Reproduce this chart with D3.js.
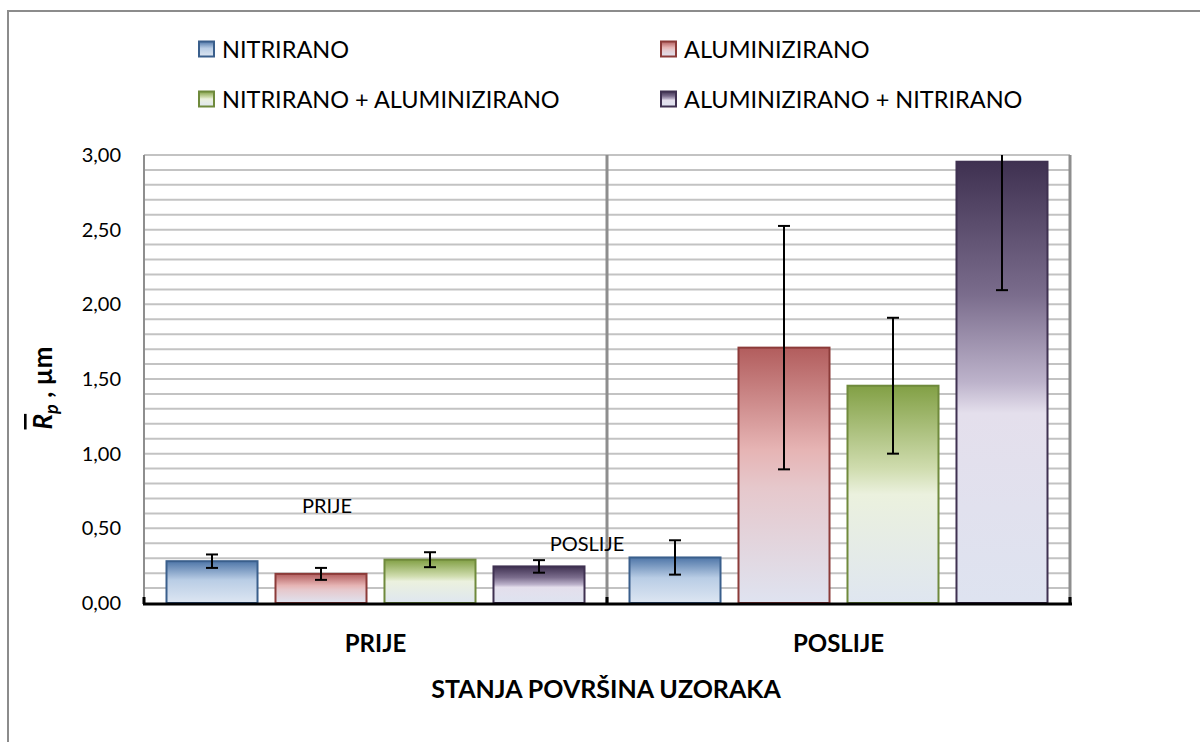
<!DOCTYPE html>
<html>
<head>
<meta charset="utf-8">
<script src="https://cdn.jsdelivr.net/npm/d3@7"></script>
<style>
  body { margin: 0; background: #fff; }
  svg { display: block; font-family: Lato, "Open Sans", sans-serif; }
</style>
</head>
<body>
<svg id="chart" width="1200" height="742"></svg>
<script>
// Surface states on the category axis
const groups = ["PRIJE", "POSLIJE"];
// Treatments (one bar per treatment inside each state)
const seriesNames = ["NITRIRANO", "ALUMINIZIRANO", "NITRIRANO + ALUMINIZIRANO", "ALUMINIZIRANO + NITRIRANO"];
// Mean Rp values, µm
const prijeValues = [0.28, 0.195, 0.29, 0.245];
const poslijeValues = [0.305, 1.71, 1.455, 2.955];
// Standard deviations (error bar half-lengths), µm
const prijeErrors = [0.045, 0.04, 0.05, 0.042];
const poslijeErrors = [0.115, 0.815, 0.455, 0.86];
// Value axis labels
const yTicks = [0, 0.5, 1, 1.5, 2, 2.5, 3];
const yGridStep = 0.1;

const valuesByGroup = { PRIJE: prijeValues, POSLIJE: poslijeValues };
const errorsByGroup = { PRIJE: prijeErrors, POSLIJE: poslijeErrors };

// Fill gradients and outline colours per treatment
const palette = [
  { stroke: "#3a5f8c", stops: [[0, "#4f76a8"], [0.45, "#b9cde5"], [1, "#dde6f2"]] },
  { stroke: "#8c3b39", stops: [[0, "#b25d5d"], [0.4, "#e6b4b4"], [0.55, "#e6c8cc"], [1, "#dfe3f0"]] },
  { stroke: "#6f8a3c", stops: [[0, "#82a045"], [0.38, "#cfdcae"], [0.5, "#ebf1de"], [1, "#dfe6f0"]] },
  { stroke: "#3f3151", stops: [[0, "#3f3151"], [0.3, "#7a6c8c"], [0.5, "#bdb3cb"], [0.57, "#e4dfec"], [1, "#dee3f0"]] }
];

const svg = d3.select("#chart");
const W = 1200, H = 742;
const plot = { left: 144, right: 1070, top: 155, bottom: 603 };

svg.append("rect").attr("width", W).attr("height", H).attr("fill", "#fff");

// Chart frame (runs off the right and bottom edges)
svg.append("path")
  .attr("d", `M8,${H + 2}V11H${W + 2}`)
  .attr("fill", "none").attr("stroke", "#8c8c8c").attr("stroke-width", 2);

const defs = svg.append("defs");
palette.forEach((p, i) => {
  const g = defs.append("linearGradient").attr("id", "grad" + i)
    .attr("x1", 0).attr("y1", 0).attr("x2", 0).attr("y2", 1);
  p.stops.forEach(([o, c]) => g.append("stop").attr("offset", o).attr("stop-color", c));
});
defs.append("clipPath").attr("id", "plotClip")
  .append("rect").attr("x", plot.left - 10).attr("y", plot.top)
  .attr("width", plot.right - plot.left + 20).attr("height", plot.bottom - plot.top);

const x0 = d3.scaleBand().domain(groups).range([plot.left, plot.right]);
const x1 = d3.scaleBand().domain(seriesNames)
  .range([22.5, x0.bandwidth() - 22.5]).paddingInner(0.165);
const y = d3.scaleLinear().domain([0, 3]).range([plot.bottom, plot.top]);

// Horizontal gridlines every 0.1
const gridVals = d3.range(1, Math.round(3 / yGridStep) + 1).map(i => +(i * yGridStep).toFixed(2));
svg.append("g").selectAll("line").data(gridVals).join("line")
  .attr("x1", plot.left).attr("x2", plot.right)
  .attr("y1", d => y(d)).attr("y2", d => y(d))
  .attr("stroke", "#c3c3c3").attr("stroke-width", 2);

// Vertical lines: value axis and category separators
const boundaries = [plot.left, ...groups.map(g => x0(g) + x0.bandwidth())];
svg.append("g").selectAll("line").data(boundaries).join("line")
  .attr("x1", d => d).attr("x2", d => d)
  .attr("y1", plot.top).attr("y2", plot.bottom)
  .attr("stroke", "#8e8e8e").attr("stroke-width", (d, i) => i === 0 ? 2 : 3);

// Value axis labels
const yAxis = d3.axisLeft(y).tickValues(yTicks).tickSize(0).tickPadding(23)
  .tickFormat(d => d3.format(".2f")(d).replace(".", ","));
const yg = svg.append("g").attr("transform", `translate(${plot.left},0)`).call(yAxis);
yg.select(".domain").remove();
yg.selectAll("text").attr("font-family", "Lato, sans-serif").attr("font-size", 20).attr("fill", "#000");

// Bars
const bars = svg.append("g");
groups.forEach(gName => {
  const gg = bars.append("g").attr("transform", `translate(${x0(gName)},0)`);
  const rows = seriesNames.map((s, i) => ({ s, i, v: valuesByGroup[gName][i], e: errorsByGroup[gName][i] }));
  gg.selectAll("rect").data(rows).join("rect")
    .attr("x", d => x1(d.s)).attr("width", x1.bandwidth())
    .attr("y", d => y(d.v)).attr("height", d => y(0) - y(d.v))
    .attr("fill", d => `url(#grad${d.i})`)
    .attr("stroke", d => palette[d.i].stroke).attr("stroke-width", 2);

  // Error bars
  const eg = gg.append("g").attr("clip-path", "url(#plotClip)")
    .attr("transform", `translate(${-x0(gName)},0)`);
  const cx = d => x0(gName) + x1(d.s) + x1.bandwidth() / 2;
  eg.selectAll("line.stem").data(rows).join("line").attr("class", "stem")
    .attr("x1", cx).attr("x2", cx)
    .attr("y1", d => y(d.v + d.e)).attr("y2", d => y(d.v - d.e))
    .attr("stroke", "#000").attr("stroke-width", 2);
  ["top", "bot"].forEach(k => {
    eg.selectAll("line.cap" + k).data(rows).join("line").attr("class", "cap" + k)
      .attr("x1", d => cx(d) - 6).attr("x2", d => cx(d) + 6)
      .attr("y1", d => y(k === "top" ? d.v + d.e : d.v - d.e))
      .attr("y2", d => y(k === "top" ? d.v + d.e : d.v - d.e))
      .attr("stroke", "#000").attr("stroke-width", 2);
  });
});

// Category axis line with tick marks between categories
svg.append("line")
  .attr("x1", plot.left - 1).attr("x2", plot.right + 2)
  .attr("y1", plot.bottom + 1).attr("y2", plot.bottom + 1)
  .attr("stroke", "#000").attr("stroke-width", 3);
svg.append("g").selectAll("line").data(boundaries).join("line")
  .attr("x1", d => d).attr("x2", d => d)
  .attr("y1", plot.bottom - 6).attr("y2", plot.bottom + 1)
  .attr("stroke", "#000").attr("stroke-width", 3);

// Category labels
svg.append("g").selectAll("text").data(groups).join("text")
  .attr("x", d => x0(d) + x0.bandwidth() / 2).attr("y", 652)
  .attr("text-anchor", "middle").attr("font-weight", "bold").attr("font-size", 24)
  .text(d => d);

// Axis titles
svg.append("text").attr("x", 606).attr("y", 698)
  .attr("text-anchor", "middle").attr("font-weight", "bold").attr("font-size", 25)
  .text("STANJA POVRŠINA UZORAKA");

const yt = svg.append("text")
  .attr("transform", "translate(52,388) rotate(-90)")
  .attr("text-anchor", "middle").attr("font-weight", "bold").attr("font-size", 26);
yt.append("tspan").attr("font-style", "italic").style("text-decoration", "overline").text("R");
yt.append("tspan").attr("font-style", "italic").attr("font-size", 18).attr("dy", 6).text("p");
yt.append("tspan").attr("dy", -6).text(" , µm");

// Free text labels inside the plot
const notes = [
  { text: "PRIJE", x: 327, y: 513 },
  { text: "POSLIJE", x: 587, y: 551 }
];
svg.append("g").selectAll("text").data(notes).join("text")
  .attr("x", d => d.x).attr("y", d => d.y)
  .attr("text-anchor", "middle").attr("font-size", 20).text(d => d.text);

// Legend
const legendPos = [[199, 49], [661, 49], [199, 99], [661, 99]];
const lg = svg.append("g").selectAll("g").data(seriesNames).join("g")
  .attr("transform", (d, i) => `translate(${legendPos[i][0]},${legendPos[i][1]})`);
lg.append("rect").attr("x", 0).attr("y", -7.5).attr("width", 15).attr("height", 15)
  .attr("fill", (d, i) => `url(#grad${i})`)
  .attr("stroke", (d, i) => palette[i].stroke).attr("stroke-width", 2);
lg.append("text").attr("x", 23).attr("y", 8.5).attr("font-size", 23.5).text(d => d);
</script>
</body>
</html>
